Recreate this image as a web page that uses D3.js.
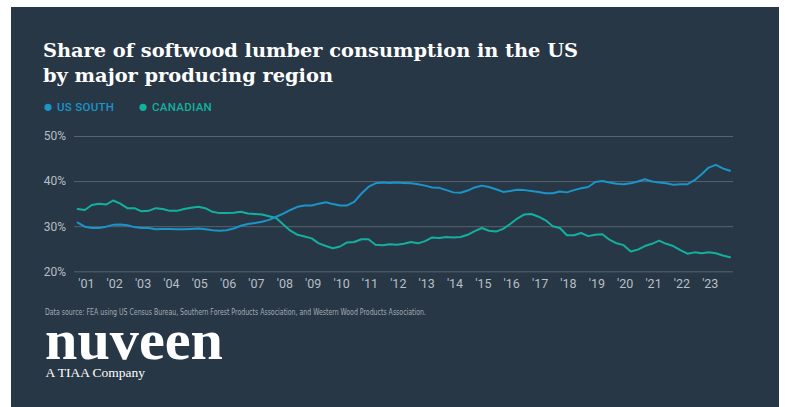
<!DOCTYPE html>
<html>
<head>
<meta charset="utf-8">
<script src="https://cdn.jsdelivr.net/npm/d3@7"></script>
<style>
  html, body { margin: 0; padding: 0; background: #ffffff; }
  svg { display: block; }
</style>
</head>
<body>
<svg id="chart" width="785" height="407"></svg>
<script>
// ---- Data (quarterly share of US softwood lumber consumption, %) ----
const seriesNames = ["US SOUTH", "CANADIAN"];
const tickYears = d3.range(2001, 2024);
const yTicks = [20, 30, 40, 50];
const startYear = 2001;
const usSouth = [
  30.8, 29.9, 29.6, 29.6, 29.9, 30.3, 30.4, 30.2, 29.8, 29.6, 29.6, 29.3,
  29.4, 29.4, 29.3, 29.3, 29.4, 29.5, 29.3, 29.1, 29.0, 29.1, 29.5, 30.1,
  30.5, 30.7, 31.0, 31.4, 32.1, 32.8, 33.6, 34.3, 34.6, 34.6, 35.0, 35.3,
  34.9, 34.6, 34.6, 35.4, 37.2, 38.7, 39.5, 39.7, 39.6, 39.7, 39.6, 39.5,
  39.3, 39.0, 38.6, 38.5, 38.0, 37.5, 37.4, 37.9, 38.6, 39.0, 38.7, 38.2,
  37.6, 37.8, 38.1, 38.0, 37.8, 37.6, 37.3, 37.3, 37.7, 37.5, 38.0, 38.4,
  38.7, 39.8, 40.0, 39.7, 39.4, 39.3, 39.5, 39.9, 40.4, 39.9, 39.7, 39.5,
  39.2, 39.3, 39.3, 40.2, 41.5, 43.0, 43.6, 42.8, 42.3
];
const canadian = [
  33.8, 33.6, 34.7, 35.0, 34.8, 35.7, 35.0, 34.0, 34.0, 33.3, 33.4, 34.0,
  33.8, 33.4, 33.4, 33.8, 34.1, 34.3, 34.0, 33.2, 32.9, 32.9, 33.0, 33.2,
  32.8, 32.7, 32.6, 32.2, 31.8, 30.4, 29.0, 28.1, 27.7, 27.3, 26.2, 25.6,
  25.1, 25.5, 26.4, 26.5, 27.1, 27.1, 25.9, 25.8, 26.0, 25.9, 26.1, 26.5,
  26.2, 26.7, 27.5, 27.4, 27.6, 27.5, 27.6, 28.1, 28.9, 29.6, 29.0, 28.8,
  29.4, 30.5, 31.7, 32.6, 32.7, 32.1, 31.3, 30.0, 29.6, 28.0, 28.0, 28.5,
  27.8, 28.1, 28.2, 27.0, 26.2, 25.8, 24.4, 24.8, 25.6, 26.1, 26.8, 26.1,
  25.6, 24.7, 23.9, 24.2, 24.0, 24.2, 24.0, 23.5, 23.1
];
const titleLines = ["Share of softwood lumber consumption in the US", "by major producing region"];
const sourceText = "Data source: FEA using US Census Bureau, Southern Forest Products Association, and Western Wood Products Association.";

// ---- Styles ----
const bg = "#273746";
const colors = { "US SOUTH": "#1a95c9", "CANADIAN": "#14b09f" };
const gridColor = "#58636e";
const labelColor = "#b8bec5";

const svg = d3.select("#chart");

// panel
svg.append("rect").attr("x", 11).attr("y", 7).attr("width", 768).attr("height", 400).attr("fill", bg);

// title
const titleLen = [535, 290];
titleLines.forEach((t, i) => {
  svg.append("text").attr("x", 43).attr("y", 57 + i * 25)
    .attr("font-family", "'DejaVu Serif', 'Liberation Serif', serif")
    .attr("font-weight", "bold").attr("font-size", 19).attr("fill", "#ffffff")
    .attr("textLength", titleLen[i]).attr("lengthAdjust", "spacingAndGlyphs")
    .text(t);
});

// legend
const legendX = [48, 143];
seriesNames.forEach((name, i) => {
  const g = svg.append("g").attr("transform", `translate(${legendX[i]},107.3)`);
  g.append("circle").attr("r", 3.6).attr("fill", colors[name]);
  g.append("text").attr("x", 9).attr("y", 4)
    .attr("font-family", "Roboto, 'DejaVu Sans', sans-serif")
    .attr("font-weight", 500).attr("font-size", 11.5).attr("letter-spacing", 0.3)
    .attr("fill", colors[name]).text(name);
});

// scales
const x = d3.scaleLinear().domain([2001, 2024]).range([77.7, 730]);
const y = d3.scaleLinear().domain([20, 50]).range([271.3, 136]);
const gridLeft = 74, gridRight = 733;

// y axis with grid
const yAxis = svg.append("g").attr("transform", `translate(${gridLeft},0)`)
  .call(d3.axisLeft(y).tickValues(yTicks).tickFormat(d => d + "%")
    .tickSize(-(gridRight - gridLeft)).tickPadding(8));
yAxis.select(".domain").remove();
yAxis.selectAll("line").attr("stroke", gridColor).attr("stroke-width", 1);
yAxis.selectAll("text")
  .attr("font-family", "Roboto, 'DejaVu Sans', sans-serif")
  .attr("font-size", 12).attr("fill", labelColor);

// x axis
const xAxis = svg.append("g").attr("transform", `translate(0,${y(20)})`)
  .call(d3.axisBottom(x).tickValues(tickYears)
    .tickFormat(d => "'" + String(d).slice(2)).tickSize(0));
xAxis.select(".domain").remove();
xAxis.selectAll("text")
  .attr("text-anchor", "start").attr("y", 17.2).attr("dy", 0)
  .attr("font-family", "Roboto, 'DejaVu Sans', sans-serif")
  .attr("font-size", 12.5).attr("fill", labelColor);

// lines
const line = d3.line()
  .x((d, i) => x(startYear + i / 4))
  .y(d => y(d));
[["CANADIAN", canadian], ["US SOUTH", usSouth]].forEach(([name, vals]) => {
  svg.append("path").datum(vals)
    .attr("d", line).attr("fill", "none")
    .attr("stroke", colors[name]).attr("stroke-width", 2)
    .attr("stroke-linejoin", "round").attr("stroke-linecap", "round");
});

// source
svg.append("text").attr("x", 45).attr("y", 314.5)
  .attr("font-family", "'Liberation Sans Narrow', 'DejaVu Sans Condensed', sans-serif")
  .attr("font-size", 9).attr("fill", "#a3abb3")
  .attr("textLength", 381).attr("lengthAdjust", "spacingAndGlyphs")
  .text(sourceText);

// logo
svg.append("text").attr("x", 45).attr("y", 359.3)
  .attr("font-family", "'Liberation Serif', serif").attr("font-weight", "bold")
  .attr("font-size", 57).attr("fill", "#ffffff")
  .attr("textLength", 178).attr("lengthAdjust", "spacingAndGlyphs")
  .text("nuveen");
svg.append("text").attr("x", 45.5).attr("y", 376.5)
  .attr("font-family", "'Liberation Serif', serif")
  .attr("font-size", 13.5).attr("fill", "#ffffff")
  .text("A TIAA Company");
</script>
</body>
</html>
